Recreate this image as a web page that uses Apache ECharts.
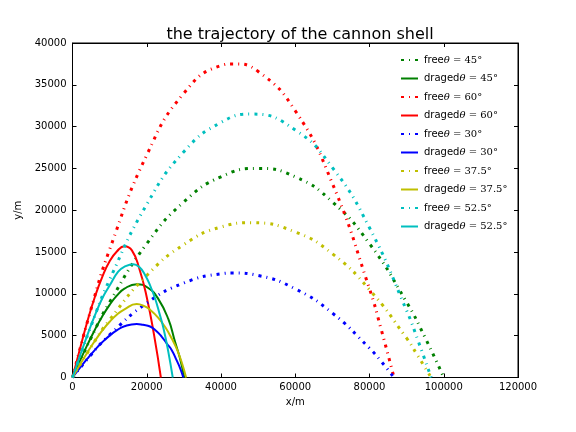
<!DOCTYPE html>
<html>
<head>
<meta charset="utf-8">
<script src="https://cdn.jsdelivr.net/npm/echarts@6/dist/echarts.min.js"></script>
<style>
html,body{margin:0;padding:0;background:#fff;}
#c{width:576px;height:432px;}
</style>
</head>
<body>
<div id="c"></div>
<script>
// Free (no drag) trajectories, [x, y] in metres
const free45 = [[0,0],[5000,4750],[10000,9000],[20000,16000],[30000,21000],[40000,24000],[50000,25000],[60000,24000],[70000,21000],[80000,16000],[90000,9000],[95000,4750],[100000,0]];
const free60 = [[0,0],[5000,8200],[10000,15300],[20000,26600],[30000,34000],[40000,37300],[43300,37500],[50000,36600],[60000,31900],[70000,23200],[80000,10600],[83000,6000],[86600,0]];
const free30 = [[0,0],[5000,2720],[10000,5100],[20000,8900],[30000,11300],[40000,12400],[43300,12500],[50000,12200],[60000,10600],[70000,7700],[80000,3500],[83000,2000],[86600,0]];
const free37 = [[0,0],[5000,3640],[10000,6900],[20000,12200],[30000,15900],[40000,18000],[48300,18500],[60000,17400],[70000,14800],[80000,10500],[90000,4700],[93000,2600],[96600,0]];
const free52 = [[0,0],[5000,6180],[10000,11700],[20000,20700],[30000,27000],[40000,30500],[48300,31500],[60000,29600],[70000,25100],[80000,17900],[90000,8000],[93000,4500],[96600,0]];

// Trajectories with air drag, [x, y] in metres
const drag45 = [[0,0],[2000,1990],[4000,3900],[6000,5690],[8000,7300],[10000,8690],[12000,9820],[14000,10630],[17300,11150],[20400,10700],[23100,9400],[25800,7000],[27600,4300],[29000,2200],[30100,0]];
const drag60 = [[0,0],[2000,3400],[4000,6700],[6000,9600],[8000,12000],[10000,13900],[12000,15100],[14000,15700],[16000,15200],[18000,13000],[20000,9600],[22000,5000],[23800,0]];
const drag30 = [[0,0],[2000,1146],[4000,2250],[6000,3280],[8000,4210],[10000,5010],[12000,5660],[14000,6130],[17300,6400],[19000,6300],[20900,6100],[22500,5600],[24000,4900],[25500,4000],[26700,3300],[28000,2100],[29000,1100],[29850,0]];
const drag37 = [[0,0],[2000,1523],[4000,2990],[6000,4360],[8000,5600],[10000,6670],[12000,7530],[14000,8150],[17300,8800],[19500,8500],[20900,8100],[23000,7200],[25000,6000],[26800,4600],[28200,3300],[29500,1700],[30600,0]];
const drag52 = [[0,0],[2000,2580],[4100,5190],[6000,7400],[8200,9620],[10000,11000],[12300,12660],[14000,13250],[16400,13550],[18000,13200],[19500,12300],[21000,10900],[22200,9500],[23400,7700],[24500,5900],[25800,3100],[27000,0]];

const seriesNames = ['freeθ = 45°','dragedθ = 45°','freeθ = 60°','dragedθ = 60°','freeθ = 30°','dragedθ = 30°','freeθ = 37.5°','dragedθ = 37.5°','freeθ = 52.5°','dragedθ = 52.5°'];
const seriesData = [free45, drag45, free60, drag60, free30, drag30, free37, drag37, free52, drag52];
const seriesColors = ['#008000','#008000','#ff0000','#ff0000','#0000ff','#0000ff','#bfbf00','#bfbf00','#00bfbf','#00bfbf'];

const xTicks = {min:0, max:120000, interval:20000};
const yTicks = {min:0, max:40000, interval:5000};

const FONT = 'DejaVu Sans';

const series = seriesNames.map((n, i) => {
  const isFree = n.startsWith('free');
  return {
    name: n,
    type: 'line',
    data: seriesData[i],
    smooth: 0.5,
    symbol: 'none',
    clip: true,
    z: 2 + i,
    lineStyle: isFree
      ? {color: seriesColors[i], width: 3, type: [3,5,1,5], cap: 'butt'}
      : {color: seriesColors[i], width: 2},
    itemStyle: {color: seriesColors[i]},
    emphasis: {disabled: true},
    animation: false
  };
});

const axisCommon = {
  type: 'value',
  splitLine: {show: false},
  axisLine: {show: true, onZero: false, lineStyle: {color: '#000', width: 1}},
  axisTick: {show: true, inside: true, length: 4, lineStyle: {color: '#000'}},
};

const chart = echarts.init(document.getElementById('c'), null, {renderer: 'canvas'});
chart.setOption({
  animation: false,
  backgroundColor: '#fff',
  title: {
    text: 'the trajectory of the cannon shell',
    left: 295, top: 22, textAlign: 'center',
    textStyle: {fontFamily: FONT, fontSize: 16, fontWeight: 'normal', color: '#000'}
  },
  grid: {left: 72.5, right: 58, top: 43, bottom: 54.5, show: true, borderColor: '#000', borderWidth: 1, containLabel: false},
  legend: {
    orient: 'vertical',
    left: 395, top: 50,
    itemWidth: 17, itemHeight: 12, itemGap: 8.5,
    selectedMode: false,
    data: seriesNames,
    itemStyle: {opacity: 0},
    formatter: function (name) {
      const k = name.indexOf('θ');
      return name.slice(0, k) + '{i|θ}' + '{m|' + name.slice(k + 1) + '}';
    },
    textStyle: {
      fontFamily: FONT, fontSize: 10, color: '#000', padding: [0,0,0,1],
      rich: {
        i: {fontFamily: 'DejaVu Serif', fontStyle: 'italic', fontSize: 10, color: '#000'},
        m: {fontFamily: 'DejaVu Serif', fontSize: 10, color: '#000'}
      }
    }
  },
  xAxis: [
    Object.assign({}, axisCommon, {
      position: 'bottom', min: xTicks.min, max: xTicks.max, interval: xTicks.interval,
      name: 'x/m', nameLocation: 'middle', nameGap: 18,
      nameTextStyle: {fontFamily: FONT, fontSize: 10, color: '#000'},
      axisLabel: {fontFamily: FONT, fontSize: 10, color: '#000', margin: 5, formatter: v => String(v)}
    }),
    Object.assign({}, axisCommon, {
      position: 'top', min: xTicks.min, max: xTicks.max, interval: xTicks.interval,
      axisLabel: {show: false}
    })
  ],
  yAxis: [
    Object.assign({}, axisCommon, {
      position: 'left', min: yTicks.min, max: yTicks.max, interval: yTicks.interval,
      name: 'y/m', nameLocation: 'middle', nameGap: 39, nameRotate: 90,
      nameTextStyle: {fontFamily: FONT, fontSize: 10, color: '#000'},
      axisLabel: {fontFamily: FONT, fontSize: 10, color: '#000', margin: 6, formatter: v => String(v)}
    }),
    Object.assign({}, axisCommon, {
      position: 'right', min: yTicks.min, max: yTicks.max, interval: yTicks.interval,
      axisLabel: {show: false}
    })
  ],
  series: series
});
</script>
</body>
</html>
